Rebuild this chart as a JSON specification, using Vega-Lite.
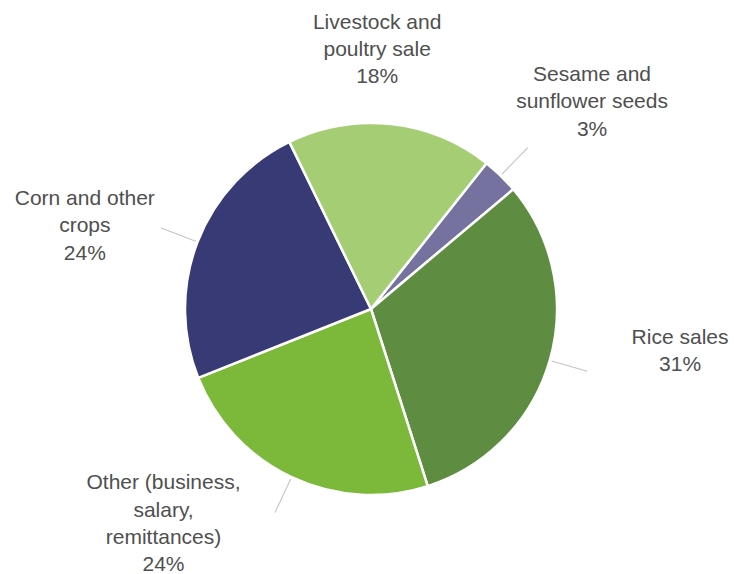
{
  "$schema": "https://vega.github.io/schema/vega-lite/v6.json",
  "width": 726,
  "height": 530,
  "autosize": "none",
  "padding": {"left": 8, "top": 44, "right": 0, "bottom": 0},
  "background": "white",
  "view": {"stroke": null},
  "data": {
    "values": [
      {"category": "Sesame and sunflower seeds", "label": "Sesame and\nsunflower seeds\n3%", "share": 3.2},
      {"category": "Rice sales", "label": "Rice sales\n31%", "share": 31.2},
      {"category": "Other (business, salary, remittances)", "label": "Other (business,\nsalary,\nremittances)\n24%", "share": 23.9},
      {"category": "Corn and other crops", "label": "Corn and other\ncrops\n24%", "share": 23.8},
      {"category": "Livestock and poultry sale", "label": "Livestock and\npoultry sale\n18%", "share": 17.9}
    ]
  },
  "transform": [{"window": [{"op": "row_number", "as": "idx"}]}],
  "layer": [
    {
      "mark": {"type": "arc", "outerRadius": 186, "stroke": "white", "strokeWidth": 2.5},
      "encoding": {
        "theta": {"field": "share", "type": "quantitative", "stack": true, "scale": {"domain": [0, 100], "range": [0.6702, 6.9534]}},
        "order": {"field": "idx", "type": "quantitative"},
        "color": {
          "field": "category",
          "type": "nominal",
          "scale": {
            "domain": ["Sesame and sunflower seeds", "Rice sales", "Other (business, salary, remittances)", "Corn and other crops", "Livestock and poultry sale"],
            "range": ["#76729f", "#5e8d42", "#7cb83a", "#383a76", "#a4cd74"]
          },
          "legend": null
        }
      }
    },
    {
      "transform": [
        {"stack": "share", "groupby": [], "sort": [{"field": "idx"}], "as": ["s0", "s1"]},
        {"fold": ["s0", "s1"]},
        {"aggregate": [{"op": "mean", "field": "value", "as": "mid"}], "groupby": ["category"]},
        {"filter": "datum.category !== 'Livestock and poultry sale'"}
      ],
      "mark": {"type": "arc", "radius": 225, "radius2": 188, "stroke": "#c4c4c4", "strokeWidth": 1.1, "fill": null},
      "encoding": {
        "theta": {"field": "mid", "type": "quantitative", "stack": null},
        "theta2": {"field": "mid"}
      }
    },
    {
      "mark": {
        "type": "text",
        "radius": 280,
        "font": "Liberation Sans",
        "fontSize": 21,
        "lineHeight": 27.3,
        "lineBreak": "\n",
        "align": "center",
        "baseline": "middle",
        "fill": "#4f4f4f",
        "dx": {"expr": "[26, 40, -88, -25, -24][datum.idx - 1]"},
        "dy": {"expr": "[-33, -49, -79, -9, -8][datum.idx - 1]"}
      },
      "encoding": {
        "theta": {"field": "share", "type": "quantitative", "stack": true},
        "order": {"field": "idx", "type": "quantitative"},
        "text": {"field": "label", "type": "nominal"}
      }
    }
  ]
}
